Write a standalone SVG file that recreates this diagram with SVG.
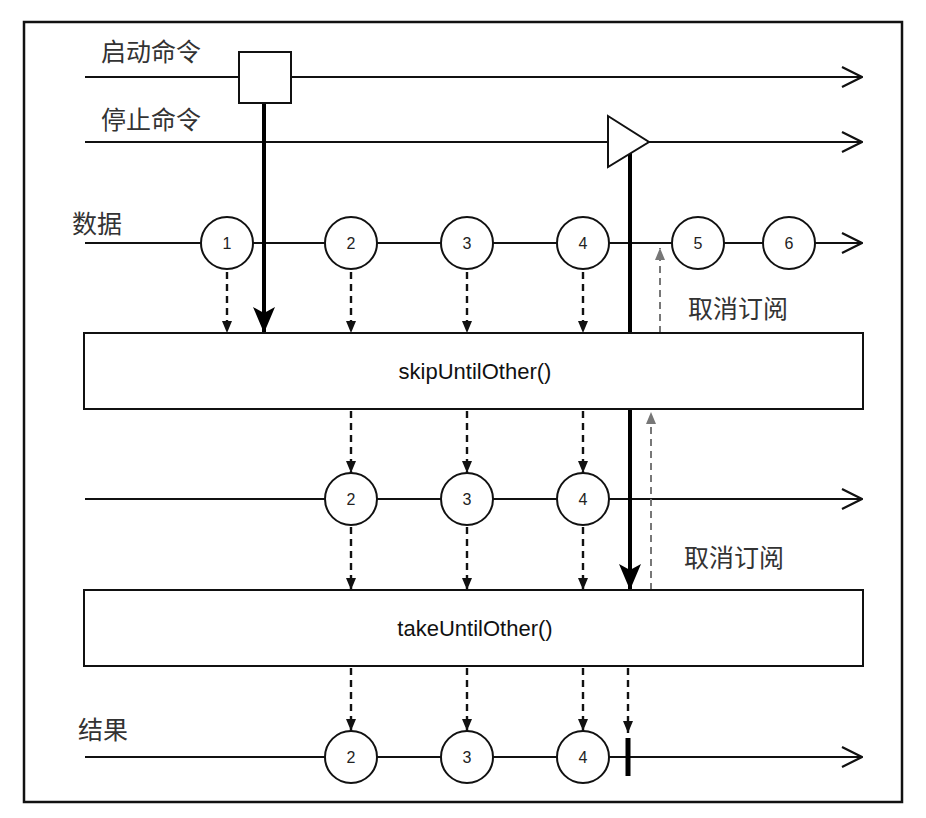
<svg xmlns="http://www.w3.org/2000/svg" width="926" height="818" viewBox="0 0 926 818">
<defs>
<style>
.ln{stroke:#111;stroke-width:2;fill:none}
.circ{stroke:#111;stroke-width:2;fill:#fff}
.box{stroke:#111;stroke-width:2;fill:#fff}
.num{font-family:"Liberation Sans",Arial,sans-serif;font-size:16px;fill:#222;text-anchor:middle}
.lbl{font-family:"Noto Sans CJK SC","Liberation Sans",sans-serif;font-size:25px;fill:#333}
.op{font-family:"Liberation Sans",Arial,sans-serif;font-size:22px;fill:#111;text-anchor:middle}
.dash{stroke:#111;stroke-width:2.4;stroke-dasharray:7,5;fill:none}
.gdash{stroke:#777;stroke-width:2;stroke-dasharray:7,5;fill:none}
.thick{stroke:#000;stroke-width:4;fill:none}
</style>
<marker id="open" viewBox="0 0 22 22" refX="21" refY="11" markerWidth="22" markerHeight="22" markerUnits="userSpaceOnUse" orient="auto">
<path d="M1,1 L21,11 L1,21" fill="none" stroke="#111" stroke-width="2.2"/>
</marker>
<marker id="dh" viewBox="0 0 12 10" refX="12" refY="5" markerWidth="12" markerHeight="10" markerUnits="userSpaceOnUse" orient="auto">
<path d="M0,0 L12,5 L0,10 Z" fill="#111"/>
</marker>
<marker id="gh" viewBox="0 0 12 10" refX="12" refY="5" markerWidth="12" markerHeight="10" markerUnits="userSpaceOnUse" orient="auto">
<path d="M0,0 L12,5 L0,10 Z" fill="#777"/>
</marker>
<marker id="th" viewBox="0 0 26 22" refX="26" refY="11" markerWidth="26" markerHeight="22" markerUnits="userSpaceOnUse" orient="auto">
<path d="M0,0 L6,11 L0,22 L26,11 Z" fill="#000"/>
</marker>
</defs>
<rect x="0" y="0" width="926" height="818" fill="#fff"/>
<rect x="24" y="22" width="878" height="780" fill="none" stroke="#111" stroke-width="2.5"/>

<g id="timelines">
<line class="ln" x1="85" y1="77" x2="862" y2="77" marker-end="url(#open)"/>
<line class="ln" x1="85" y1="142" x2="862" y2="142" marker-end="url(#open)"/>
<line class="ln" x1="85" y1="243" x2="862" y2="243" marker-end="url(#open)"/>
<line class="ln" x1="85" y1="499" x2="862" y2="499" marker-end="url(#open)"/>
<line class="ln" x1="85" y1="757" x2="862" y2="757" marker-end="url(#open)"/>
</g>

<g id="labels">
<text class="lbl" x="101" y="61">启动命令</text>
<text class="lbl" x="101" y="129">停止命令</text>
<text class="lbl" x="72" y="233">数据</text>
<text class="lbl" x="78" y="739">结果</text>
<text class="lbl" x="688" y="318">取消订阅</text>
<text class="lbl" x="684" y="567">取消订阅</text>
</g>

<g id="connectors">
<line class="dash" x1="227" y1="272" x2="227" y2="333" marker-end="url(#dh)"/>
<line class="dash" x1="351" y1="272" x2="351" y2="333" marker-end="url(#dh)"/>
<line class="dash" x1="467" y1="272" x2="467" y2="333" marker-end="url(#dh)"/>
<line class="dash" x1="583" y1="272" x2="583" y2="333" marker-end="url(#dh)"/>
<line class="dash" x1="351" y1="411" x2="351" y2="473" marker-end="url(#dh)"/>
<line class="dash" x1="467" y1="411" x2="467" y2="473" marker-end="url(#dh)"/>
<line class="dash" x1="583" y1="411" x2="583" y2="473" marker-end="url(#dh)"/>
<line class="dash" x1="351" y1="527" x2="351" y2="590" marker-end="url(#dh)"/>
<line class="dash" x1="467" y1="527" x2="467" y2="590" marker-end="url(#dh)"/>
<line class="dash" x1="583" y1="527" x2="583" y2="590" marker-end="url(#dh)"/>
<line class="dash" x1="351" y1="668" x2="351" y2="731" marker-end="url(#dh)"/>
<line class="dash" x1="467" y1="668" x2="467" y2="731" marker-end="url(#dh)"/>
<line class="dash" x1="583" y1="668" x2="583" y2="731" marker-end="url(#dh)"/>
<line class="dash" x1="628" y1="668" x2="628" y2="733" marker-end="url(#dh)"/>
<line class="gdash" x1="660" y1="333" x2="660" y2="248" marker-end="url(#gh)"/>
<line class="gdash" x1="651" y1="590" x2="651" y2="412" marker-end="url(#gh)"/>
<line class="thick" x1="264" y1="103" x2="264" y2="333" marker-end="url(#th)"/>
<line class="thick" x1="630" y1="150" x2="630" y2="590" marker-end="url(#th)"/>
</g>

<g id="start-cmd"><rect class="box" x="239" y="52" width="52" height="51"/></g>
<g id="stop-cmd"><path d="M608,116 L649,142 L608,167 Z" fill="#fff" stroke="#111" stroke-width="2"/></g>

<g id="data-1"><circle class="circ" cx="227" cy="243" r="26"/><text class="num" x="227" y="249">1</text></g>
<g id="data-2"><circle class="circ" cx="351" cy="243" r="26"/><text class="num" x="351" y="249">2</text></g>
<g id="data-3"><circle class="circ" cx="467" cy="243" r="26"/><text class="num" x="467" y="249">3</text></g>
<g id="data-4"><circle class="circ" cx="583" cy="243" r="26"/><text class="num" x="583" y="249">4</text></g>
<g id="data-5"><circle class="circ" cx="698" cy="243" r="26"/><text class="num" x="698" y="249">5</text></g>
<g id="data-6"><circle class="circ" cx="789" cy="243" r="26"/><text class="num" x="789" y="249">6</text></g>

<g id="skip-op"><rect class="box" x="84" y="333" width="779" height="76"/><text class="op" x="475" y="379">skipUntilOther()</text></g>

<g id="mid-2"><circle class="circ" cx="351" cy="499" r="26"/><text class="num" x="351" y="505">2</text></g>
<g id="mid-3"><circle class="circ" cx="467" cy="499" r="26"/><text class="num" x="467" y="505">3</text></g>
<g id="mid-4"><circle class="circ" cx="583" cy="499" r="26"/><text class="num" x="583" y="505">4</text></g>

<g id="take-op"><rect class="box" x="84" y="590" width="779" height="76"/><text class="op" x="475" y="636">takeUntilOther()</text></g>

<g id="res-2"><circle class="circ" cx="351" cy="757" r="26"/><text class="num" x="351" y="763">2</text></g>
<g id="res-3"><circle class="circ" cx="467" cy="757" r="26"/><text class="num" x="467" y="763">3</text></g>
<g id="res-4"><circle class="circ" cx="583" cy="757" r="26"/><text class="num" x="583" y="763">4</text></g>
<g id="res-end"><line x1="628" y1="738" x2="628" y2="776" stroke="#000" stroke-width="5"/></g>
</svg>
